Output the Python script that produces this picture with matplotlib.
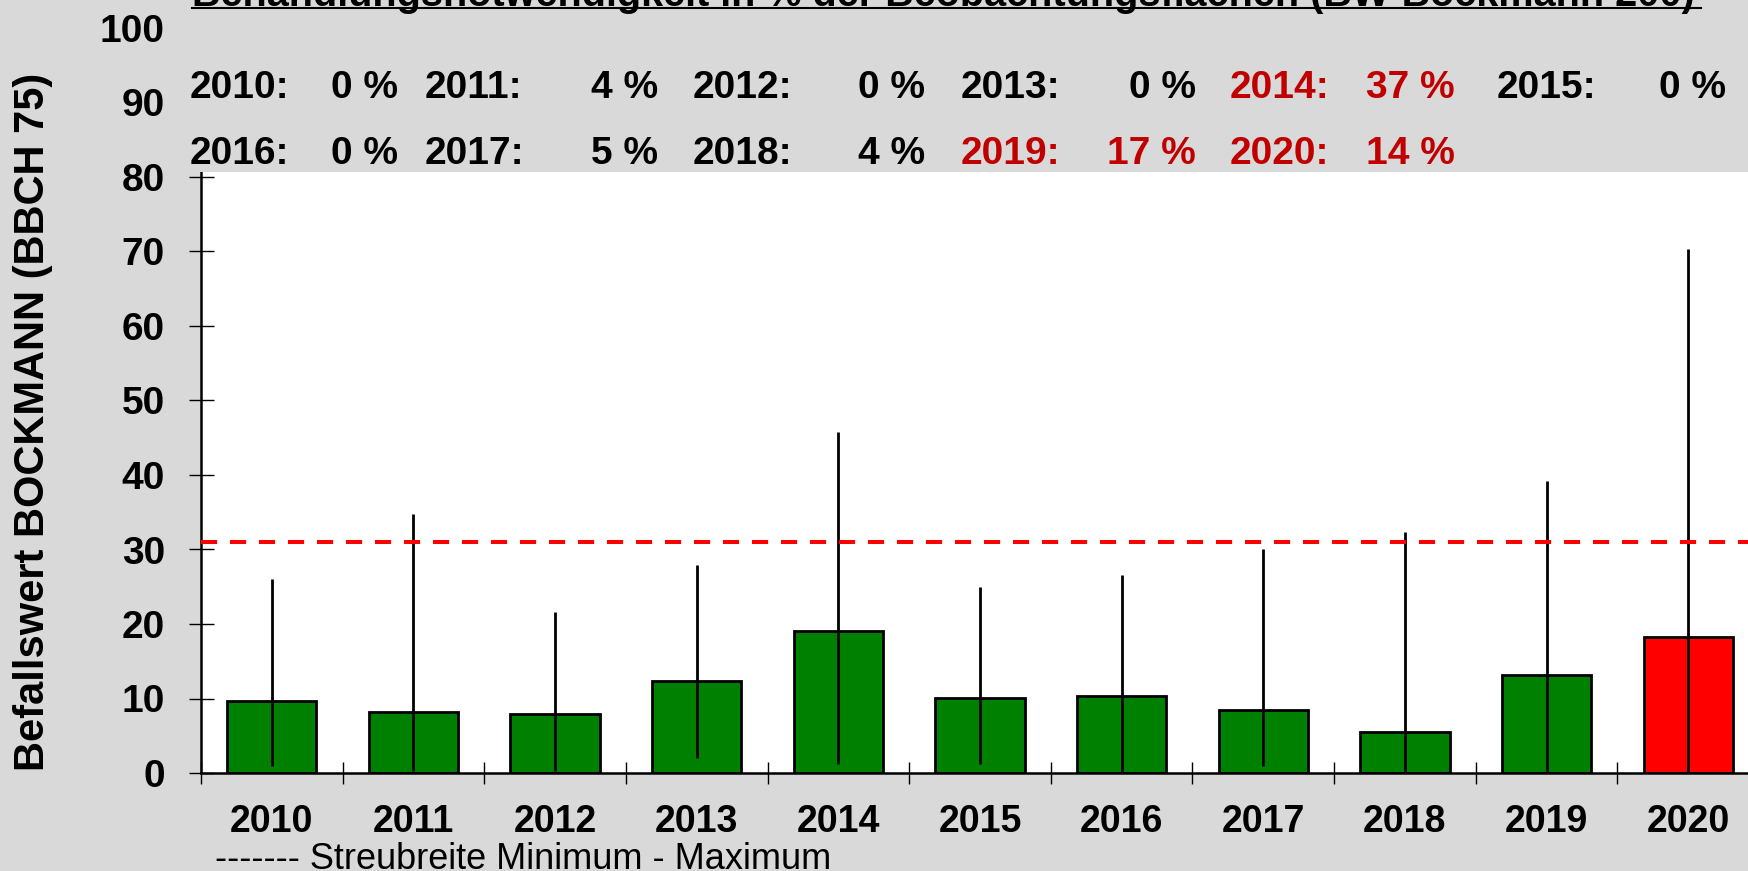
import numpy as np
import matplotlib
matplotlib.use("Agg")
import matplotlib.pyplot as plt
from matplotlib.patches import Rectangle

plt.rcParams['font.family'] = ['Liberation Sans', 'DejaVu Sans']

# --- data ---
years = ['2010', '2011', '2012', '2013', '2014', '2015',
         '2016', '2017', '2018', '2019', '2020']
mean_vals = [9.6, 8.2, 7.9, 12.4, 19.1, 10.1, 10.4, 8.5, 5.5, 13.1, 18.2]
min_vals = [1.0, 0.3, 0.3, 2.0, 1.2, 1.2, 0.0, 1.0, 0.0, 0.0, 0.0]
max_vals = [26.1, 34.7, 21.6, 27.9, 45.8, 24.9, 26.6, 30.1, 32.4, 39.2, 70.4]
treat_pct = [0, 4, 0, 0, 37, 0, 0, 5, 4, 17, 14]
threshold = 31

title = 'Behandlungsnotwendigkeit in % der Beobachtungsflächen (BW-Bockmann 200)'
ylabel = 'Befallswert BOCKMANN (BBCH 75)'
note = '------- Streubreite Minimum - Maximum'

GRAY = '#d9d9d9'
GREEN = '#008000'
RED = '#ff0000'
DARKRED = '#c00000'

W, H = 1748, 871
fig = plt.figure(figsize=(W / 100, H / 100), dpi=100, facecolor=GRAY)
# axes runs a bit past the right edge, like in the original
ax = fig.add_axes([201 / W, 98 / H, 1558 / W, 745 / H])
ax.set_facecolor('white')

x = np.arange(len(years))
colors = [RED if y == '2020' else GREEN for y in years]
ax.bar(x, mean_vals, width=0.63, color=colors, edgecolor='black', linewidth=2.0, zorder=2)
ax.vlines(x, min_vals, max_vals, color='black', linewidth=2.0, zorder=3)
ax.axhline(threshold, color=RED, linewidth=2.9, dashes=(4, 3.2), zorder=4)

ax.set_xlim(-0.5, len(years) - 0.5)
ax.set_ylim(0, 100)
ax.set_yticks(np.arange(0, 101, 10))
ax.set_xticks(x, labels=years)
ax.set_xticks(np.arange(-0.5, len(years), 1), minor=True)

ax.tick_params(axis='x', which='major', length=0, pad=22, labelsize=27)
ax.tick_params(axis='x', which='minor', direction='inout', length=15.5, width=1, color='black')
ax.tick_params(axis='y', direction='inout', length=18, width=1, pad=17, labelsize=28)
for lab in ax.get_xticklabels() + ax.get_yticklabels():
    lab.set_fontweight('bold')

for s in ['top', 'right']:
    ax.spines[s].set_visible(False)
ax.spines['left'].set_linewidth(1.8)
ax.spines['bottom'].set_linewidth(1.8)

# gray text box over the upper part of the plot area
fig.add_artist(Rectangle((185 / W, (H - 172) / H), 1, 1, transform=fig.transFigure,
                         facecolor=GRAY, edgecolor='none', zorder=5))

# treatment-need percentages, two rows of six
col_start = [190, 425, 693, 961, 1230, 1497]
col_end = [398, 658, 925, 1196, 1455, 1726]
row_base = [98, 164]
for i, (yr, p) in enumerate(zip(years, treat_pct)):
    row, col = divmod(i, 6)
    c = DARKRED if p > 10 else 'black'
    yy = (H - row_base[row]) / H
    fig.text(col_start[col] / W, yy, yr + ':', ha='left', va='baseline',
             fontsize=28, fontweight='bold', color=c, zorder=6)
    fig.text(col_end[col] / W, yy, f'{p} %', ha='right', va='baseline',
             fontsize=28, fontweight='bold', color=c, zorder=6)

# title, mostly cut off at the top edge
fig.text(192 / W, (H - 5.5) / H, title, ha='left', va='baseline',
         fontsize=28.5, fontweight='bold', zorder=6)
fig.add_artist(plt.Line2D([192 / W, 1701 / W], [(H - 8) / H] * 2, color='black',
                          linewidth=1.5, transform=fig.transFigure, zorder=6))

fig.text(33 / W, (H - 422) / H, ylabel, rotation=90, ha='center', va='center',
         fontsize=30, fontweight='bold')
fig.text(215 / W, 0.002, note, ha='left', va='baseline', fontsize=26)

fig.savefig('out.png', dpi=100, facecolor=GRAY)
